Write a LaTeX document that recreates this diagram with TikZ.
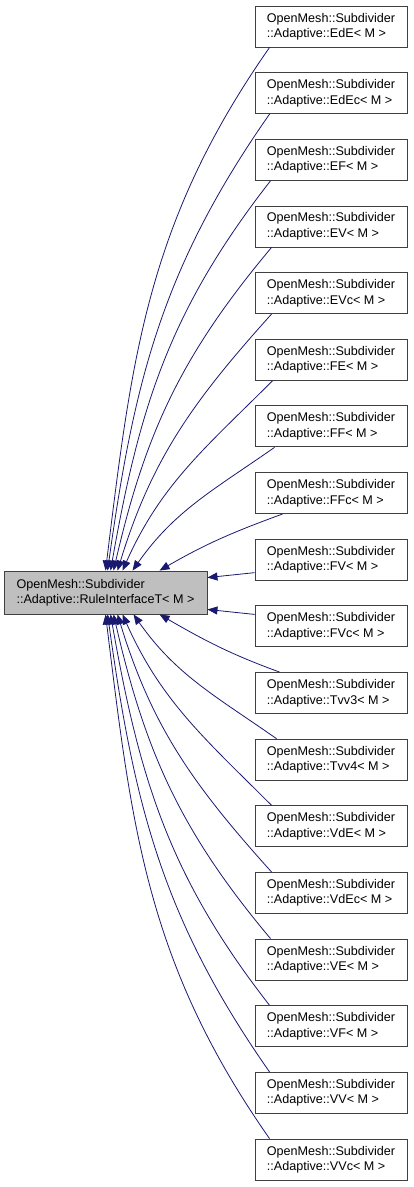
\documentclass[tikz,border=0pt]{standalone}
\usepackage{fontspec}
\setmainfont{Liberation Sans}
\usetikzlibrary{arrows.meta}
\definecolor{edgeblue}{HTML}{191970}
\definecolor{boxgray}{HTML}{BFBFBF}
\begin{document}
\begin{tikzpicture}[x=1pt,y=-1pt,
  every node/.style={draw=black!75,line width=0.9pt,rectangle,align=left,inner sep=0pt,
    font=\fontsize{12.6}{15.5}\selectfont},
  derived/.style={minimum width=152,minimum height=41},
  baseclass/.style={fill=boxgray,minimum width=203,minimum height=43},
  inherit/.style={draw=edgeblue,line width=0.8pt,arrows={Triangle[length=10pt,width=8pt]-}}]
\useasboundingbox (0,0) rectangle (413,1187);
\node[baseclass] (base) at (105.5,592.5) {OpenMesh::Subdivider\\::Adaptive::RuleInterfaceT< M >};
\foreach \n [count=\i from 0] in {EdE,EdEc,EF,EV,EVc,FE,FF,FFc,FV,FVc,Tvv3,Tvv4,VdE,VdEc,VE,VF,VV,VVc}
  \node[derived] (\n) at (331,{26.5+66.65*\i}) {OpenMesh::Subdivider\\::Adaptive::\n< M >};
% upper classes
\foreach \n/\a/\o/\t/\s in {EdE/102/83/235/15,EdEc/104/82/235/15,EF/107/80/232/16,EV/110/77/230/17,
    EVc/114/73/228/17,FE/119/66/225/18,FF/129/55/215/20,FFc/156/30/200/28}
  \draw[inherit] ([xshift=\a pt]base.north west) to[out=\o,in=\t] ([xshift=\s pt]\n.south west);
% the two beside it
\draw[inherit] ([yshift=-7pt]base.north east) -- ([yshift=8pt]FV.south west);
\draw[inherit] ([yshift=5pt]base.south east) -- ([yshift=-9pt]FVc.north west);
% lower classes
\foreach \n/\a/\o/\t/\s in {Tvv3/156/30/200/25,Tvv4/130/55/215/22,VdE/119/66/225/17,VdEc/114/73/228/17,
    VE/110/77/230/16,VF/107/80/232/15,VV/104/82/235/15,VVc/102/83/235/15}
  \draw[inherit] ([xshift=\a pt]base.south west) to[out=-\o,in=-\t] ([xshift=\s pt]\n.north west);
\end{tikzpicture}
\end{document}
